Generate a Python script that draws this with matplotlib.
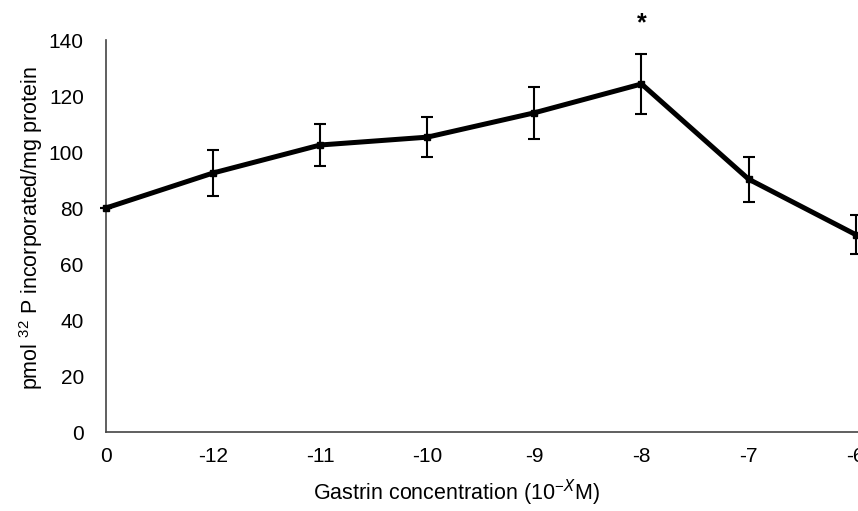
import matplotlib
matplotlib.use("Agg")
import matplotlib.pyplot as plt

categories = ["0", "-12", "-11", "-10", "-9", "-8", "-7", "-6"]
values = [80, 92.5, 102.5, 105.3, 114, 124.3, 90.3, 70.5]
errors = [0, 8.3, 7.5, 7.2, 9.2, 10.7, 8.0, 7.0]
yticks = [0, 20, 40, 60, 80, 100, 120, 140]

plt.rcParams['font.family'] = ['Liberation Sans', 'DejaVu Sans']
plt.rcParams['mathtext.fontset'] = 'custom'
plt.rcParams['mathtext.rm'] = 'Liberation Sans'

fig = plt.figure(figsize=(8.58, 5.11), dpi=100)
W, H = 858, 511
left, right, top, bottom = 106, 858, 40, 432
ax = fig.add_axes([left / W, 1 - bottom / H, (right - left) / W, (bottom - top) / H])

x = list(range(len(categories)))
ax.errorbar(x, values, yerr=errors, color='black', lw=3.6, marker='s', ms=5,
            ecolor='black', elinewidth=1.5, capsize=4, capthick=1.5, clip_on=False, zorder=3)

ax.set_xlim(0, (right - left) / 107.1)
ax.set_ylim(0, 140)
ax.set_xticks(x)
ax.set_xticklabels(categories, fontsize=15)
ax.set_yticks(yticks)
ax.set_yticklabels([str(t) for t in yticks], fontsize=15)
ax.tick_params(axis='y', length=0, pad=16)
ax.tick_params(axis='x', length=0, pad=11)
for s in ['top', 'right']:
    ax.spines[s].set_visible(False)
for s in ['left', 'bottom']:
    ax.spines[s].set_color('#444444')
    ax.spines[s].set_linewidth(1.2)

ax.set_ylabel(r'pmol $^{32}$ P incorporated/mg protein', fontsize=15.5)
ax.yaxis.set_label_coords((31 - left) / (right - left), (bottom - 228) / (bottom - top))
ax.set_xlabel(r'Gastrin concentration (10$^{-X}$M)', fontsize=15.5)
ax.xaxis.set_label_coords((456 - left) / (right - left), -(493 - bottom) / (bottom - top))
ax.xaxis.label.set_va('center')
ax.yaxis.label.set_va('center')

ax.text(5, 141.5, '*', ha='center', va='bottom', fontsize=18, fontweight='bold', clip_on=False)

fig.savefig('out.png', dpi=100)
